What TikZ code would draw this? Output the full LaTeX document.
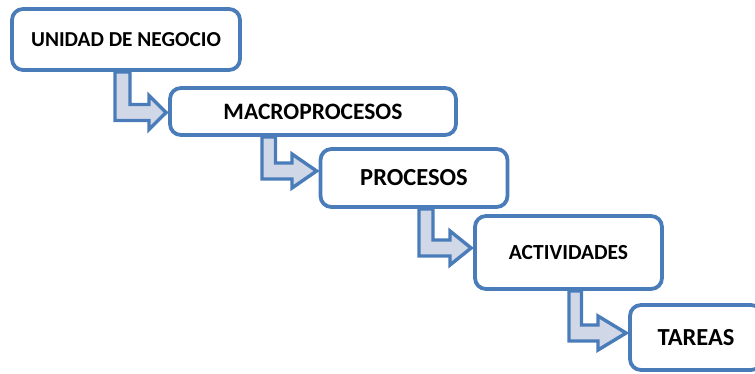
\documentclass[tikz,border=0pt]{standalone}
\usepackage{fontspec}
\setmainfont{Carlito}
\usetikzlibrary{calc,backgrounds}

\definecolor{lineblue}{RGB}{74,124,185}
\definecolor{arrowfill}{RGB}{208,216,232}

\tikzset{
  levelbox/.style={draw=lineblue, line width=3.8pt, fill=white,
    rounded corners=11pt, inner sep=0pt, align=center,
    font=\bfseries, text=black},
  stairarrow/.style={draw=lineblue, line width=3.4pt, fill=arrowfill,
    line join=miter},
}

% #1 upper box, #2 lower box, #3 shaft left x, #4 axis y (downwards),
% #5 head base x, #6 shaft width
\newcommand\stairstep[6]{%
  \draw[stairarrow] let \p1=(#1.south), \p2=(#2.west) in
    (#3pt,\y1) -- (#3pt,-#4pt-8pt) -- (#5pt,-#4pt-8pt) -- (#5pt,-#4pt-17pt)
    -- (\x2-2pt,-#4pt) -- (#5pt,-#4pt+17pt) -- (#5pt,-#4pt+8pt)
    -- (#3pt+#6pt,-#4pt+8pt) -- (#3pt+#6pt,\y1) -- cycle;}

\begin{document}
\begin{tikzpicture}[x=1pt,y=-1pt]
  \useasboundingbox (0,0) rectangle (755,373);
  \clip (0,0) rectangle (755,373);

  \node[levelbox, minimum width=228pt, minimum height=61pt] (b1) at (126,39.5)
    {\fontsize{21.3}{25}\selectfont UNIDAD DE NEGOCIO};
  \node[levelbox, minimum width=286pt, minimum height=47pt] (b2) at (313,111.5)
    {\fontsize{23.5}{28}\selectfont MACROPROCESOS};
  \node[levelbox, minimum width=187pt, minimum height=58pt] (b3) at (414,178)
    {\fontsize{24.5}{29}\selectfont PROCESOS};
  \node[levelbox, minimum width=187pt, minimum height=73pt] (b4) at (568.5,252.5)
    {\fontsize{21.5}{25}\selectfont ACTIVIDADES};
  \node[levelbox, minimum width=132pt, minimum height=65pt] (b5) at (696,337.5)
    {\fontsize{24.5}{29}\selectfont TAREAS};

  \begin{scope}[on background layer]
    \stairstep{b1}{b2}{115}{112.5}{149}{15}
    \stairstep{b2}{b3}{262}{171}{292}{13.5}
    \stairstep{b3}{b4}{419}{248}{450}{14}
    \stairstep{b4}{b5}{569}{333}{598}{12.5}
  \end{scope}
\end{tikzpicture}
\end{document}
